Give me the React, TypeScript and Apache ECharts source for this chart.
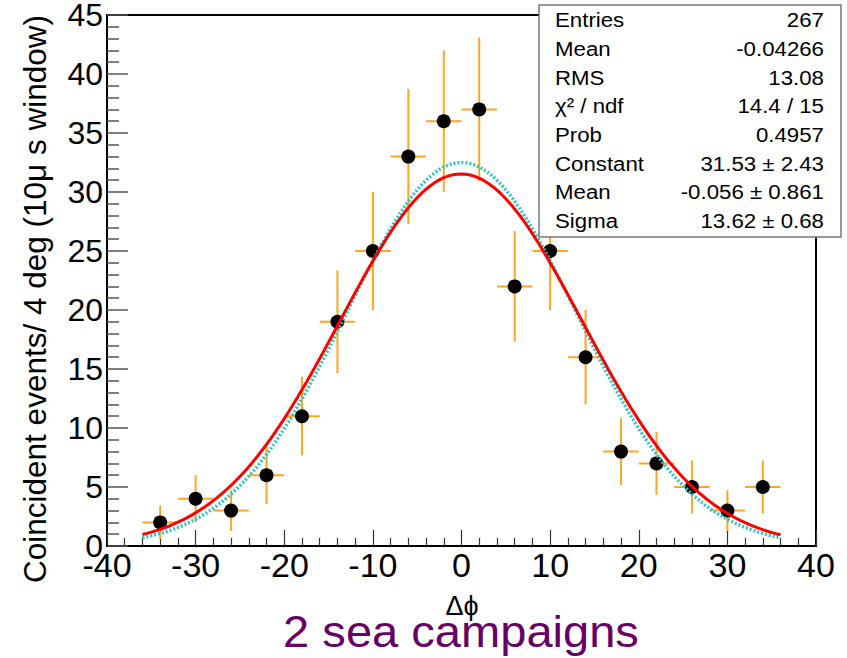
import React, { useEffect, useRef } from "react";
import * as echarts from "echarts";

// Histogram of Δϕ, 4-degree bins
const BIN_WIDTH = 4;
const binCenters = [-34, -30, -26, -22, -18, -14, -10, -6, -2, 2, 6, 10, 14, 18, 22, 26, 30, 34];
const counts = [2, 4, 3, 6, 11, 19, 25, 33, 36, 37, 22, 25, 16, 8, 7, 5, 3, 5];
const countErrors = [1.41, 2.0, 1.73, 2.45, 3.32, 4.36, 5.0, 5.74, 6.0, 6.08, 4.69, 5.0, 4.0, 2.83, 2.65, 2.24, 1.73, 2.24];

// Gaussian fit (red) and the comparison curve (cyan)
const fitConstant = 31.53;
const fitMean = -0.056;
const fitSigma = 13.62;
const refConstant = 32.5;
const refMean = 0;
const refSigma = 13.0;
const fitRange = [-36, 36];

// Axis ranges
const X_MIN = -40, X_MAX = 40, X_STEP = 10;
const Y_MIN = 0, Y_MAX = 45, Y_STEP = 5;

// Stats box
const statLabels = ["Entries", "Mean", "RMS", "χ² / ndf", "Prob", "Constant", "Mean", "Sigma"];
const statValues = ["267", "-0.04266", "13.08", "14.4 / 15", "0.4957", "31.53 ± 2.43", "-0.056 ± 0.861", "13.62 ± 0.68"];

const FONT = '"Liberation Sans", Arial, Helvetica, sans-serif';

function gaussianCurve(a: number, m: number, s: number) {
  const pts: number[][] = [];
  const n = 144;
  for (let i = 0; i <= n; i++) {
    const x = fitRange[0] + ((fitRange[1] - fitRange[0]) * i) / n;
    pts.push([x, a * Math.exp(-((x - m) * (x - m)) / (2 * s * s))]);
  }
  return pts;
}

export default function App() {
  const ref = useRef<HTMLDivElement>(null);

  useEffect(() => {
    const chart = echarts.init(ref.current!, null, { renderer: "svg" });

    const points = binCenters.map((x, i) => [x, counts[i], countErrors[i]]);

    const statTexts: any[] = [];
    statLabels.forEach((lab, i) => {
      const y = 20 + i * 28.7;
      statTexts.push({
        type: "text",
        x: 555,
        y,
        scaleX: 1.06,
        style: { text: lab, fontFamily: FONT, fontSize: 21, fill: "#000", align: "left", verticalAlign: "middle" },
      });
      statTexts.push({
        type: "text",
        x: 824,
        y,
        scaleX: 1.06,
        style: { text: statValues[i], fontFamily: FONT, fontSize: 21, fill: "#000", align: "right", verticalAlign: "middle" },
      });
    });

    const option: any = {
      animation: false,
      backgroundColor: "#fff",
      grid: {
        left: 107,
        right: 31,
        top: 15,
        bottom: 112,
        show: true,
        borderColor: "#000",
        borderWidth: 2,
        backgroundColor: "transparent",
        containLabel: false,
        outerBoundsMode: "none",
      },
      xAxis: {
        type: "value",
        min: X_MIN,
        max: X_MAX,
        interval: X_STEP,
        axisLine: { show: true, onZero: false, lineStyle: { color: "#000", width: 2 } },
        axisTick: { show: true, inside: true, length: 16, lineStyle: { color: "#333", width: 1.2 } },
        minorTick: { show: true, splitNumber: 5, length: 8, lineStyle: { color: "#333", width: 1.2 } },
        splitLine: { show: false },
        axisLabel: { fontFamily: FONT, fontSize: 34, color: "#000", margin: 2 },
      },
      yAxis: {
        type: "value",
        min: Y_MIN,
        max: Y_MAX,
        interval: Y_STEP,
        axisLine: { show: true, onZero: false, lineStyle: { color: "#000", width: 2 } },
        axisTick: { show: true, inside: true, length: 21, lineStyle: { color: "#555", width: 1.5 } },
        minorTick: { show: true, splitNumber: 5, length: 12, lineStyle: { color: "#555", width: 1.5 } },
        splitLine: { show: false },
        axisLabel: { fontFamily: FONT, fontSize: 32, color: "#000", margin: 4 },
      },
      series: [
        {
          type: "custom",
          z: 2,
          data: points,
          renderItem: (params: any, api: any) => {
            const x = api.value(0);
            const y = api.value(1);
            const e = api.value(2);
            const l = api.coord([x - BIN_WIDTH / 2, y]);
            const r = api.coord([x + BIN_WIDTH / 2, y]);
            const t = api.coord([x, y + e]);
            const b = api.coord([x, y - e]);
            const st = { stroke: "#FFA51F", lineWidth: 2 };
            return {
              type: "group",
              children: [
                { type: "line", shape: { x1: l[0], y1: l[1], x2: r[0], y2: r[1] }, style: st },
                { type: "line", shape: { x1: t[0], y1: t[1], x2: b[0], y2: b[1] }, style: st },
              ],
            };
          },
        },
        {
          type: "scatter",
          z: 3,
          data: points.map((p) => [p[0], p[1]]),
          symbol: "circle",
          symbolSize: 14,
          itemStyle: { color: "#000", opacity: 1 },
        },
        {
          type: "line",
          z: 4,
          data: gaussianCurve(refConstant, refMean, refSigma),
          showSymbol: false,
          lineStyle: { color: "#2EC4C6", width: 3.5, type: [2, 2] },
        },
        {
          type: "line",
          z: 5,
          data: gaussianCurve(fitConstant, fitMean, fitSigma),
          showSymbol: false,
          lineStyle: { color: "#FF0000", width: 3 },
        },
      ],
      graphic: [
        {
          type: "rect",
          z: 100,
          shape: { x: 539, y: 5, width: 302, height: 232 },
          style: { fill: "#fff", stroke: "#777", lineWidth: 1.5 },
        },
        ...statTexts.map((t) => ({ ...t, z: 101 })),
        {
          type: "text",
          x: 35,
          y: 299,
          rotation: Math.PI / 2,
          style: {
            text: "Coincident events/ 4 deg (10μ s window)",
            fontFamily: FONT,
            fontSize: 31.5,
            fill: "#000",
            align: "center",
            verticalAlign: "middle",
          },
        },
        {
          type: "text",
          x: 462,
          y: 606,
          style: { text: "Δϕ", fontFamily: FONT, fontSize: 27, fill: "#000", align: "center", verticalAlign: "middle" },
        },
        {
          type: "text",
          x: 461,
          y: 632,
          scaleX: 1.07,
          style: { text: "2 sea campaigns", fontFamily: FONT, fontSize: 44, fill: "#660066", align: "center", verticalAlign: "middle" },
        },
      ],
    };

    chart.setOption(option);
    return () => chart.dispose();
  }, []);

  return (
    <div
      ref={ref}
      style={{ position: "fixed", left: 0, top: 0, width: 847, height: 658, background: "#fff" }}
    />
  );
}
